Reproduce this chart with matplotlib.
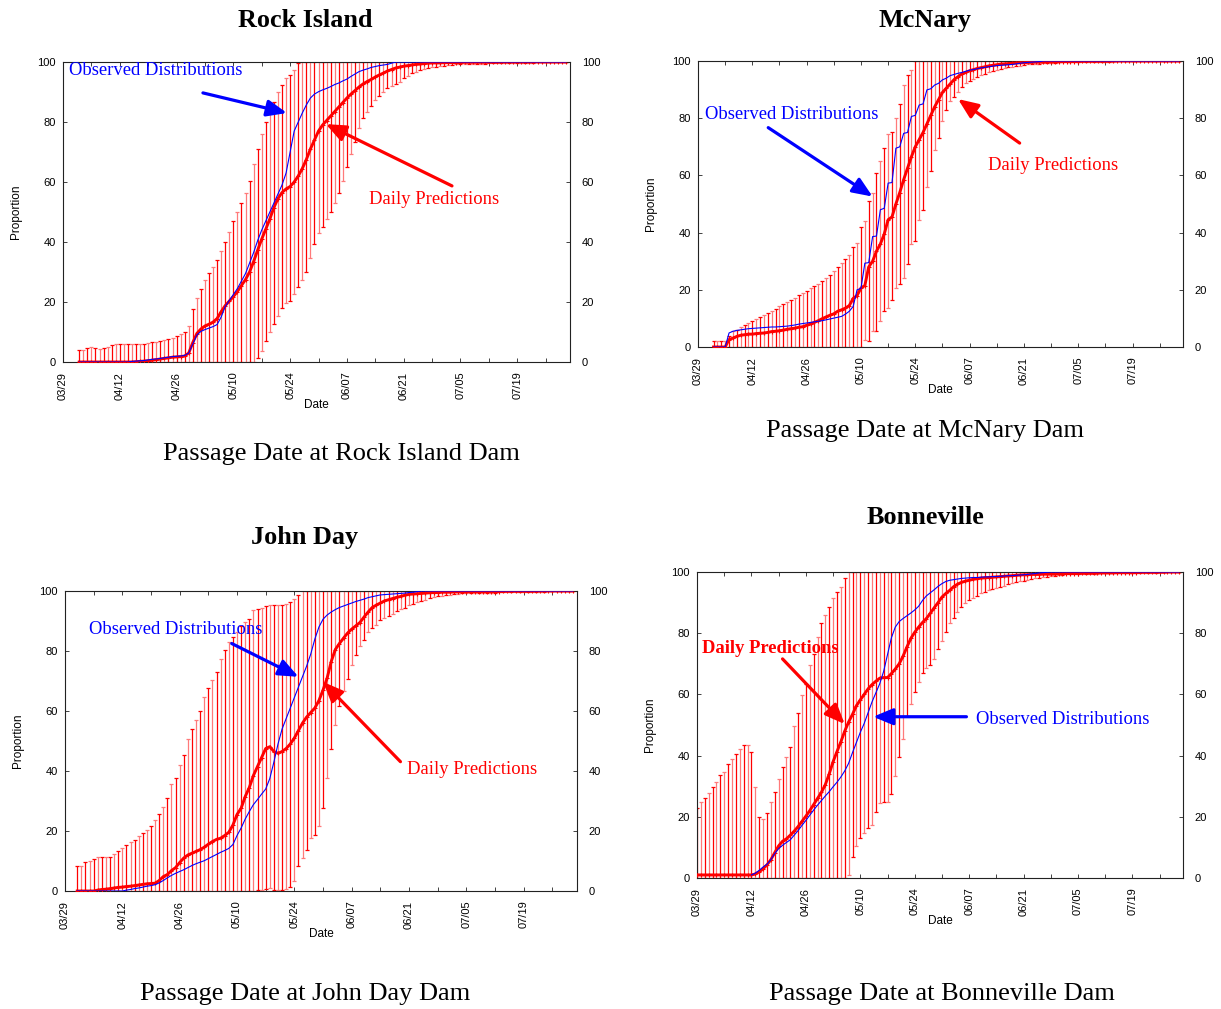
import numpy as np
import matplotlib.pyplot as plt
from matplotlib.ticker import MultipleLocator

plt.rcParams['font.family'] = ['Liberation Sans', 'DejaVu Sans']
SERIF = ['Liberation Serif', 'DejaVu Serif']

# x axis: day number counted from 03/29
date_ticks = [0, 14, 28, 42, 56, 70, 84, 98, 112]
date_labels = ['03/29', '04/12', '04/26', '05/10', '05/24', '06/07', '06/21', '07/05', '07/19']
prop_ticks = [0, 20, 40, 60, 80, 100]

# ---- Rock Island (daily values from day 4) ----
ri_start = 4
ri_pred = [
    0, 0, 0, 0, 0, 0, 0, 0, 0, 0,
    0, 0, 0, 0, 0.1, 0.2, 0.3, 0.4, 0.6, 0.8,
    1.0, 1.2, 1.4, 1.6, 1.7, 1.8, 2.0, 3.0, 6.5, 9.5,
    11.0, 12.0, 12.6, 13.3, 14.5, 16.8, 18.8, 20.3, 21.8, 23.5,
    25.5, 27.5, 30.0, 33.5, 37.3, 41.0, 44.3, 47.7, 51.5, 54.5,
    56.5, 57.7, 58.5, 60.0, 62.0, 64.5, 67.5, 71.0, 74.0, 77.0,
    79.0, 80.5, 82.0, 83.5, 85.0, 86.5, 88.0, 89.3, 90.5, 91.7,
    92.7, 93.5, 94.2, 95.0, 95.7, 96.3, 97.0, 97.5, 98.0, 98.3,
    98.6, 98.8, 99.0, 99.2, 99.3, 99.5, 99.6, 99.7, 99.7, 99.7,
    99.8, 99.8, 99.8, 99.8, 99.8, 99.9, 99.9, 99.9, 99.9, 99.9,
    99.9, 99.9, 99.9, 99.9, 100, 100, 100, 100, 100, 100,
    100, 100, 100, 100, 100, 100, 100, 100, 100, 100,
    100]
ri_hi = [
    4.0, 4.0, 4.6, 5.1, 4.6, 4.3, 4.8, 5.1, 5.7, 5.9,
    5.9, 6.1, 6.1, 5.9, 5.9, 6.1, 6.1, 6.2, 6.6, 6.8,
    7.0, 7.3, 7.7, 8.1, 8.7, 9.2, 10.0, 12.0, 17.7, 21.4,
    24.5, 27.3, 29.6, 31.8, 34.0, 37.1, 40.1, 43.4, 47.1, 50.1,
    53.1, 56.2, 60.4, 65.9, 71.0, 75.9, 80.1, 83.2, 86.8, 90.1,
    92.3, 94.6, 95.7, 97.3, 99.6, 100, 100, 100, 100, 100,
    100, 100, 100, 100, 100, 100, 100, 100, 100, 100,
    100, 100, 100, 100, 100, 100, 100, 100, 100, 100,
    100, 100, 100, 100, 100, 100, 100, 100, 100, 100,
    100, 100, 100, 100, 100, 100, 100, 100, 100, 100,
    100, 100, 100, 100, 100, 100, 100, 100, 100, 100,
    100, 100, 100, 100, 100, 100, 100, 100, 100, 100,
    100]
ri_lo = [
    0, 0, 0, 0, 0, 0, 0, 0, 0, 0,
    0, 0, 0, 0, 0, 0, 0, 0, 0, 0,
    0, 0, 0, 0, 0, 0, 0, 0, 0, 0,
    0, 0, 0, 0, 0, 0, 0, 0, 0, 0,
    0, 0, 0, 0, 1.2, 3.7, 7.1, 9.9, 12.6, 15.4,
    18.1, 19.6, 20.3, 22.6, 25.0, 27.3, 30.1, 34.8, 39.2, 42.9,
    44.9, 47.7, 50.1, 52.9, 56.2, 60.3, 64.9, 69.2, 73.2, 77.9,
    81.2, 83.2, 85.4, 87.3, 88.8, 89.9, 91.4, 92.1, 92.6, 93.4,
    94.6, 95.4, 96.2, 96.8, 97.3, 97.7, 97.9, 98.2, 98.4, 98.7,
    98.8, 99.0, 99.0, 99.2, 99.3, 99.3, 99.4, 99.4, 99.5, 99.5,
    99.5, 99.6, 99.6, 99.6, 99.7, 99.7, 99.7, 99.7, 99.8, 99.8,
    99.8, 99.8, 99.8, 99.9, 99.9, 99.9, 99.9, 99.9, 99.9, 100,
    100]
ri_obs_start = 4
ri_obs = [
    0, 0, 0, 0, 0, 0, 0, 0, 0, 0,
    0, 0, 0, 0.2, 0.3, 0.4, 0.5, 0.7, 0.9, 1.0,
    1.2, 1.4, 1.6, 1.8, 1.9, 2.0, 2.2, 3.0, 6.0, 9.0,
    10.2, 10.8, 11.3, 11.8, 12.5, 15.0, 18.5, 20.5, 22.5, 24.5,
    27.0, 29.5, 33.0, 36.5, 40.5, 44.0, 47.0, 50.0, 53.0, 56.0,
    59.0, 63.0, 70.0, 77.0, 80.0, 83.0, 85.7, 88.0, 89.3, 90.1,
    90.7, 91.2, 91.8, 92.5, 93.0, 93.7, 94.3, 95.2, 96.0, 96.8,
    97.3, 97.7, 98.2, 98.5, 98.8, 99.0, 99.2, 99.6, 100, 100,
    100, 100, 100, 100, 100, 100, 100, 100, 100, 100,
    100, 100, 100, 100, 100, 100, 100, 100, 100, 100,
    100, 100, 100, 100, 100, 100, 100, 100, 100, 100,
    100, 100, 100, 100, 100, 100, 100, 100, 100, 100,
    100]

# ---- McNary (daily values from day 4) ----
mc_start = 4
mc_pred = [
    0, 0, 0, 0, 2.6, 3.1, 3.7, 4.1, 4.3, 4.5,
    4.5, 4.7, 4.8, 4.9, 5.1, 5.4, 5.5, 5.7, 5.9, 6.2,
    6.4, 6.6, 6.9, 7.1, 7.6, 8.0, 8.6, 9.2, 9.9, 10.5,
    11.1, 11.6, 12.5, 13.0, 13.6, 14.5, 17.0, 18.0, 20.6, 21.5,
    28.0, 30.0, 33.5, 36.0, 39.5, 44.5, 45.5, 50.0, 54.0, 58.5,
    62.5, 66.5, 70.0, 72.5, 75.0, 78.0, 81.0, 84.0, 86.5, 89.0,
    90.5, 92.0, 93.5, 94.5, 95.5, 96.0, 96.6, 97.0, 97.4, 97.7,
    98.0, 98.3, 98.5, 98.7, 98.9, 99.0, 99.1, 99.2, 99.3, 99.4,
    99.4, 99.5, 99.5, 99.6, 99.6, 99.6, 99.7, 99.7, 99.7, 99.7,
    99.8, 99.8, 99.8, 99.8, 99.8, 99.9, 99.9, 99.9, 99.9, 99.9,
    99.9, 99.9, 99.9, 100, 100, 100, 100, 100, 100, 100,
    100, 100, 100, 100, 100, 100, 100, 100, 100, 100,
    100]
mc_hi = [
    2.2, 2.2, 2.2, 2.2, 3.7, 5.5, 6.0, 6.9, 7.6, 8.4,
    9.0, 9.8, 10.4, 11.2, 11.9, 12.7, 13.4, 14.2, 15.0, 15.7,
    16.5, 17.3, 18.3, 19.0, 19.7, 20.6, 21.5, 22.2, 23.2, 24.1,
    25.3, 26.4, 27.8, 29.3, 30.8, 32.2, 34.8, 36.3, 42.1, 43.9,
    50.9, 53.8, 60.8, 65.1, 69.5, 74.4, 75.3, 80.0, 84.9, 91.6,
    95.1, 96.9, 100, 100, 100, 100, 100, 100, 100, 100,
    100, 100, 100, 100, 100, 100, 100, 100, 100, 100,
    100, 100, 100, 100, 100, 100, 100, 100, 100, 100,
    100, 100, 100, 100, 100, 100, 100, 100, 100, 100,
    100, 100, 100, 100, 100, 100, 100, 100, 100, 100,
    100, 100, 100, 100, 100, 100, 100, 100, 100, 100,
    100, 100, 100, 100, 100, 100, 100, 100, 100, 100,
    100]
mc_lo = [
    0, 0, 0, 0, 0, 0, 0, 0, 0, 0,
    0, 0, 0, 0, 0, 0, 0, 0, 0, 0,
    0, 0, 0, 0, 0, 0, 0, 0, 0, 0,
    0, 0, 0, 0, 0, 0, 0, 0, 0, 2.5,
    2.2, 5.5, 5.7, 9.0, 12.5, 13.5, 16.3, 20.5, 22.0, 24.0,
    29.0, 36.0, 37.0, 44.5, 48.0, 56.0, 61.5, 69.0, 73.0, 79.0,
    83.0, 86.0, 87.5, 89.3, 91.0, 92.2, 93.0, 93.7, 94.5, 95.1,
    95.6, 96.1, 96.5, 96.9, 97.2, 97.5, 97.8, 98.0, 98.2, 98.4,
    98.6, 98.8, 98.9, 99.0, 99.1, 99.2, 99.3, 99.4, 99.4, 99.5,
    99.5, 99.5, 99.6, 99.6, 99.6, 99.7, 99.7, 99.7, 99.7, 99.8,
    99.8, 99.8, 99.8, 99.8, 99.9, 99.9, 99.9, 99.9, 99.9, 99.9,
    99.9, 99.9, 100, 100, 100, 100, 100, 100, 100, 100,
    100]
mc_obs_start = 4
mc_obs = [
    0, 0, 0, 0, 4.9, 5.5, 5.8, 6.0, 6.2, 6.4,
    6.5, 6.6, 6.7, 6.8, 6.9, 7.0, 7.0, 7.1, 7.2, 7.3,
    7.5, 7.7, 8.0, 8.2, 8.4, 8.6, 8.8, 9.0, 9.2, 9.5,
    9.8, 10.1, 10.4, 10.7, 11.5, 12.5, 14.2, 20.0, 20.5, 29.3,
    29.5, 38.6, 38.8, 48.0, 48.5, 57.3, 57.5, 69.5, 70.0, 74.7,
    75.0, 80.6, 81.0, 84.6, 85.0, 89.9, 90.3, 91.6, 92.2, 93.4,
    94.0, 94.9, 95.3, 95.7, 96.0, 96.4, 96.8, 97.0, 97.3, 97.6,
    97.8, 98.0, 98.2, 98.4, 98.5, 98.6, 98.7, 98.8, 99.0, 99.2,
    99.4, 99.5, 99.6, 99.7, 99.8, 100, 100, 100, 100, 100,
    100, 100, 100, 100, 100, 100, 100, 100, 100, 100,
    100, 100, 100, 100, 100, 100, 100, 100, 100, 100,
    100, 100, 100, 100, 100, 100, 100, 100, 100, 100,
    100]

# ---- John Day (daily values from day 3) ----
jd_start = 3
jd_pred = [
    0, 0, 0, 0, 0, 0.3, 0.5, 0.6, 0.8, 1.0,
    1.2, 1.3, 1.5, 1.6, 1.8, 2.0, 2.2, 2.4, 2.5, 2.6,
    3.5, 4.8, 5.5, 6.8, 7.8, 9.5, 11.0, 12.0, 12.6, 13.2,
    13.8, 14.6, 15.6, 16.5, 17.2, 17.6, 18.5, 19.6, 22.0, 25.5,
    27.6, 31.5, 34.5, 38.5, 41.5, 44.5, 47.5, 48.1, 46.5, 45.9,
    46.5, 47.5, 49.0, 51.0, 53.5, 56.0, 58.0, 59.5, 61.0, 63.5,
    67.0, 71.0, 76.5, 80.5, 82.5, 84.3, 86.0, 87.3, 88.4, 89.5,
    91.3, 93.0, 94.5, 95.3, 96.0, 96.7, 97.1, 97.5, 97.9, 98.2,
    98.6, 98.9, 99.0, 99.1, 99.2, 99.3, 99.4, 99.5, 99.5, 99.6,
    99.6, 99.6, 99.7, 99.7, 99.7, 99.7, 99.7, 99.8, 99.8, 99.8,
    99.8, 99.8, 99.8, 99.8, 99.9, 99.9, 99.9, 99.9, 99.9, 99.9,
    99.9, 99.9, 100, 100, 100, 100, 100, 100, 100, 100,
    100, 100]
jd_hi = [
    8.2, 8.5, 9.6, 10.0, 10.7, 11.2, 11.2, 11.2, 11.5, 12.3,
    13.2, 14.3, 15.4, 16.3, 17.1, 18.2, 19.2, 20.4, 21.8, 23.7,
    25.6, 28.1, 30.9, 35.6, 37.6, 42.0, 45.3, 50.6, 54.0, 57.0,
    60.0, 64.7, 67.8, 70.3, 73.1, 77.3, 80.3, 83.1, 84.7, 86.4,
    88.4, 89.7, 90.8, 93.6, 93.9, 94.3, 95.0, 95.2, 95.2, 95.2,
    95.4, 95.6, 96.5, 97.4, 98.6, 100, 100, 100, 100, 100,
    100, 100, 100, 100, 100, 100, 100, 100, 100, 100,
    100, 100, 100, 100, 100, 100, 100, 100, 100, 100,
    100, 100, 100, 100, 100, 100, 100, 100, 100, 100,
    100, 100, 100, 100, 100, 100, 100, 100, 100, 100,
    100, 100, 100, 100, 100, 100, 100, 100, 100, 100,
    100, 100, 100, 100, 100, 100, 100, 100, 100, 100,
    100, 100]
jd_lo = [
    0, 0, 0, 0, 0, 0, 0, 0, 0, 0,
    0, 0, 0, 0, 0, 0, 0, 0, 0, 0,
    0, 0, 0, 0, 0, 0, 0, 0, 0, 0,
    0, 0, 0, 0, 0, 0, 0, 0, 0, 0,
    0, 0, 0, 0, 0.5, 0.5, 0.8, 1.0, 0.5, 0.3,
    0.5, 0.8, 1.2, 3.5, 8.2, 11.0, 13.7, 17.6, 18.7, 21.8,
    27.8, 37.8, 47.5, 55.5, 61.7, 66.6, 70.8, 75.3, 78.6, 81.7,
    83.6, 86.3, 87.6, 88.7, 90.2, 90.9, 91.6, 92.4, 93.2, 93.9,
    94.5, 95.2, 95.7, 96.3, 96.8, 97.1, 97.6, 97.9, 98.2, 98.5,
    98.7, 98.8, 99.0, 99.1, 99.2, 99.2, 99.3, 99.3, 99.4, 99.4,
    99.5, 99.5, 99.5, 99.6, 99.6, 99.6, 99.7, 99.7, 99.7, 99.7,
    99.8, 99.8, 99.8, 99.8, 99.8, 99.9, 99.9, 99.9, 99.9, 99.9,
    100, 100]
jd_obs_start = 3
jd_obs = [
    0, 0, 0, 0, 0, 0, 0, 0, 0, 0,
    0, 0, 0.3, 0.5, 0.8, 1.0, 1.3, 1.6, 1.8, 2.1,
    2.7, 3.5, 4.4, 5.2, 5.9, 6.5, 7.1, 7.8, 8.5, 9.1,
    9.6, 10.1, 10.8, 11.5, 12.2, 12.9, 13.5, 14.2, 15.5, 18.5,
    21.0, 24.0, 26.5, 28.8, 30.5, 32.3, 34.0, 37.5, 43.0, 49.0,
    54.0, 57.5, 61.0, 64.5, 68.0, 71.5, 75.0, 79.0, 84.0, 88.0,
    90.6, 92.0, 93.0, 93.8, 94.5, 95.0, 95.5, 96.0, 96.5, 96.9,
    97.3, 97.8, 98.1, 98.4, 98.7, 98.8, 98.9, 99.0, 99.1, 99.2,
    99.3, 99.5, 99.6, 99.8, 100, 100, 100, 100, 100, 100,
    100, 100, 100, 100, 100, 100, 100, 100, 100, 100,
    100, 100, 100, 100, 100, 100, 100, 100, 100, 100,
    100, 100, 100, 100, 100, 100, 100, 100, 100, 100,
    100, 100]

# ---- Bonneville (daily values from day 0) ----
bn_start = 0
bn_pred = [
    1.0, 1.0, 1.0, 1.0, 1.0, 1.0, 1.0, 1.0, 1.0, 1.0,
    1.0, 1.0, 1.0, 1.0, 1.0, 1.3, 2.0, 3.0, 4.3, 6.0,
    8.3, 10.5, 12.0, 12.8, 14.0, 15.3, 16.8, 18.5, 20.2, 22.0,
    24.0, 26.0, 28.0, 30.5, 34.0, 38.0, 41.3, 44.5, 48.0, 51.0,
    53.5, 56.3, 58.2, 60.0, 61.8, 63.2, 64.3, 65.3, 65.5, 65.5,
    66.8, 68.3, 70.0, 72.5, 75.5, 78.3, 80.3, 82.0, 83.5, 84.8,
    86.5, 88.3, 90.0, 91.8, 93.0, 94.0, 95.2, 96.0, 96.6, 97.0,
    97.3, 97.6, 97.8, 98.0, 98.1, 98.2, 98.3, 98.4, 98.5, 98.6,
    98.7, 98.8, 98.9, 99.0, 99.1, 99.1, 99.2, 99.2, 99.2, 99.3,
    99.3, 99.3, 99.3, 99.4, 99.4, 99.5, 99.5, 99.5, 99.5, 99.6,
    99.6, 99.6, 99.6, 99.7, 99.7, 99.7, 99.7, 99.7, 99.8, 99.8,
    99.8, 99.8, 99.8, 99.8, 99.9, 99.9, 99.9, 99.9, 99.9, 99.9,
    99.9, 100, 100, 100, 100]
bn_hi = [
    23.0, 24.8, 26.3, 27.7, 29.9, 31.5, 33.5, 34.8, 37.2, 38.9,
    40.4, 42.2, 43.5, 43.5, 41.1, 29.9, 19.8, 19.3, 21.2, 24.8,
    28.0, 32.3, 36.4, 39.7, 42.9, 49.7, 53.8, 59.8, 63.4, 69.6,
    73.1, 78.9, 83.2, 86.0, 88.7, 91.4, 93.4, 95.2, 97.9, 100,
    100, 100, 100, 100, 100, 100, 100, 100, 100, 100,
    100, 100, 100, 100, 100, 100, 100, 100, 100, 100,
    100, 100, 100, 100, 100, 100, 100, 100, 100, 100,
    100, 100, 100, 100, 100, 100, 100, 100, 100, 100,
    100, 100, 100, 100, 100, 100, 100, 100, 100, 100,
    100, 100, 100, 100, 100, 100, 100, 100, 100, 100,
    100, 100, 100, 100, 100, 100, 100, 100, 100, 100,
    100, 100, 100, 100, 100, 100, 100, 100, 100, 100,
    100, 100, 100, 100, 100]
bn_lo = [
    0, 0, 0, 0, 0, 0, 0, 0, 0, 0,
    0, 0, 0, 0, 0, 0, 0, 0, 0, 0,
    0, 0, 0, 0, 0, 0, 0, 0, 0, 0,
    0, 0, 0, 0, 0, 0, 0, 0, 0, 1.0,
    7.0, 10.3, 13.0, 14.6, 16.3, 17.4, 21.7, 24.5, 24.8, 24.8,
    27.4, 33.4, 39.4, 45.5, 52.8, 56.9, 60.9, 64.2, 66.9, 68.5,
    69.5, 71.6, 74.9, 77.5, 80.5, 83.2, 85.1, 86.8, 88.7, 89.8,
    90.9, 91.6, 92.3, 93.0, 93.6, 94.1, 94.4, 94.9, 95.2, 95.5,
    96.0, 96.3, 96.6, 96.9, 97.1, 97.4, 97.7, 97.9, 98.1, 98.3,
    98.5, 98.6, 98.8, 99.0, 99.1, 99.2, 99.3, 99.3, 99.4, 99.4,
    99.4, 99.5, 99.5, 99.5, 99.6, 99.6, 99.6, 99.6, 99.7, 99.7,
    99.7, 99.7, 99.7, 99.8, 99.8, 99.8, 99.8, 99.8, 99.8, 99.9,
    99.9, 99.9, 99.9, 100, 100]
bn_obs_start = 14
bn_obs = [
    1.0, 1.6, 2.5, 3.6, 4.5, 6.0, 8.0, 9.6, 10.7, 11.6,
    12.5, 14.0, 15.5, 17.2, 18.8, 20.5, 22.2, 23.8, 25.3, 26.8,
    28.2, 29.8, 31.3, 33.0, 35.0, 37.5, 41.0, 44.3, 47.6, 50.5,
    54.0, 57.5, 60.5, 63.5, 67.5, 73.0, 78.5, 82.0, 83.8, 84.8,
    85.7, 86.6, 87.6, 88.8, 90.7, 92.2, 93.2, 94.2, 95.3, 96.2,
    96.9, 97.3, 97.5, 97.7, 97.9, 98.0, 98.1, 98.2, 98.2, 98.3,
    98.4, 98.4, 98.5, 98.5, 98.6, 98.7, 98.8, 98.8, 98.9, 99.0,
    99.1, 99.2, 99.4, 99.5, 99.7, 99.8, 99.9, 100, 100, 100,
    100, 100, 100, 100, 100, 100, 100, 100, 100, 100,
    100, 100, 100, 100, 100, 100, 100, 100, 100, 100,
    100, 100, 100, 100, 100, 100, 100, 100, 100, 100,
    100]

W, H = 1221, 1009


def px_rect(left, top, right, bottom):
    return [left / W, 1 - bottom / H, (right - left) / W, (bottom - top) / H]


def draw_panel(fig, rect, start, pred, lo, hi, obs_start, obs):
    ax = fig.add_axes(rect)
    days = np.arange(start, start + len(pred))
    pred = np.asarray(pred, float)
    lo = np.asarray(lo, float)
    hi = np.asarray(hi, float)
    err_lo = np.clip(pred - lo, 0, None)
    err_hi = np.clip(hi - pred, 0, None)
    # bars alternate between a full red and a paler red, as in the original print
    for k, col in ((0, '#ff0000'), (1, '#ff7a7a')):
        sel = slice(k, None, 2)
        ax.errorbar(days[sel], pred[sel], yerr=[err_lo[sel], err_hi[sel]], fmt='none',
                    ecolor=col, elinewidth=0.9, capsize=1.6, capthick=0.9, zorder=2)
    ax.plot(days, pred, color='red', lw=2.1, marker='+', ms=3, mew=0.8, zorder=3)
    odays = np.arange(obs_start, obs_start + len(obs))
    ax.plot(odays, obs, color='blue', lw=0.8, zorder=4)

    ax.set_xlim(0, 125)
    ax.set_ylim(0, 100)
    ax.set_xticks(date_ticks)
    ax.set_xticklabels(date_labels, rotation=90)
    ax.xaxis.set_minor_locator(MultipleLocator(7))
    ax.set_yticks(prop_ticks)
    ax.tick_params(axis='both', which='both', direction='in', top=True,
                   right=False, labelsize=8, length=3, width=0.6, color='#222222')
    ax.tick_params(axis='x', pad=7)
    ax.tick_params(axis='y', pad=5)
    for s in ax.spines.values():
        s.set_linewidth(0.8)
        s.set_color('#222222')

    ax2 = ax.twinx()
    ax2.set_ylim(0, 100)
    ax2.set_yticks(prop_ticks)
    ax2.tick_params(direction='in', labelsize=8, length=3, width=0.6, pad=8.5, color='#222222')
    for s in ax2.spines.values():
        s.set_visible(False)

    wpx = rect[2] * W
    hpx = rect[3] * H
    ax.text(0.5, -43 / hpx, 'Date', transform=ax.transAxes, ha='center',
            va='center', fontsize=8.5)
    ax.text(-47 / wpx, 0.5, 'Proportion', transform=ax.transAxes, ha='center',
            va='center', rotation=90, fontsize=8.5)
    return ax


def label_arrow(ax, text, color, txy, start, tip, ha='center', bold=False):
    ax.text(txy[0], txy[1], text, color=color, fontsize=13.4, ha=ha, va='center',
            family=SERIF, fontweight='bold' if bold else 'normal', zorder=6, clip_on=False)
    ax.annotate('', xy=tip, xytext=start, annotation_clip=False, zorder=6,
                arrowprops=dict(arrowstyle='-|>,head_length=0.6,head_width=0.25',
                                color=color, lw=2.3, mutation_scale=20,
                                shrinkA=0, shrinkB=0))


fig = plt.figure(figsize=(W / 100, H / 100), dpi=100)

ax_ri = draw_panel(fig, px_rect(63, 62, 570, 362), ri_start, ri_pred, ri_lo, ri_hi, ri_obs_start, ri_obs)
label_arrow(ax_ri, 'Observed Distributions', 'blue', (1.5, 97.3), (34.5, 89.7), (55.2, 83.0), ha='left')
label_arrow(ax_ri, 'Daily Predictions', 'red', (91.6, 54.0), (95.9, 58.7), (64.8, 79.3))

ax_mc = draw_panel(fig, px_rect(698, 61, 1183, 347), mc_start, mc_pred, mc_lo, mc_hi, mc_obs_start, mc_obs)
label_arrow(ax_mc, 'Observed Distributions', 'blue', (24.2, 81.2), (18.1, 76.7), (45.0, 52.6))
label_arrow(ax_mc, 'Daily Predictions', 'red', (91.4, 63.4), (82.9, 71.3), (67.0, 86.7))

ax_jd = draw_panel(fig, px_rect(65, 591, 577, 891), jd_start, jd_pred, jd_lo, jd_hi, jd_obs_start, jd_obs)
label_arrow(ax_jd, 'Observed Distributions', 'blue', (27.0, 87.0), (40.7, 82.5), (57.0, 71.4))
label_arrow(ax_jd, 'Daily Predictions', 'red', (99.3, 40.4), (81.9, 43.1), (63.0, 69.7))

ax_bn = draw_panel(fig, px_rect(697, 572, 1183, 878), bn_start, bn_pred, bn_lo, bn_hi, bn_obs_start, bn_obs)
label_arrow(ax_bn, 'Daily Predictions', 'red', (18.8, 74.9), (22.0, 71.6), (38.0, 50.3), bold=True)
label_arrow(ax_bn, 'Observed Distributions', 'blue', (94.0, 51.7), (69.3, 52.7), (45.3, 52.7))

# titles and captions (positions in pixels from top-left)
for txt, x, y in [('Rock Island', 305, 27), ('McNary', 925, 27),
                  ('John Day', 305, 544), ('Bonneville', 925, 524)]:
    fig.text(x / W, 1 - y / H, txt, ha='center', va='baseline', fontsize=18.8,
             fontweight='bold', family=SERIF)
for txt, x, y in [('Passage Date at Rock Island Dam', 341, 460),
                  ('Passage Date at McNary Dam', 925, 437),
                  ('Passage Date at John Day Dam', 305, 1000),
                  ('Passage Date at Bonneville Dam', 942, 1000)]:
    fig.text(x / W, 1 - y / H, txt, ha='center', va='baseline', fontsize=19,
             family=SERIF)

fig.savefig('out.png', dpi=100)
